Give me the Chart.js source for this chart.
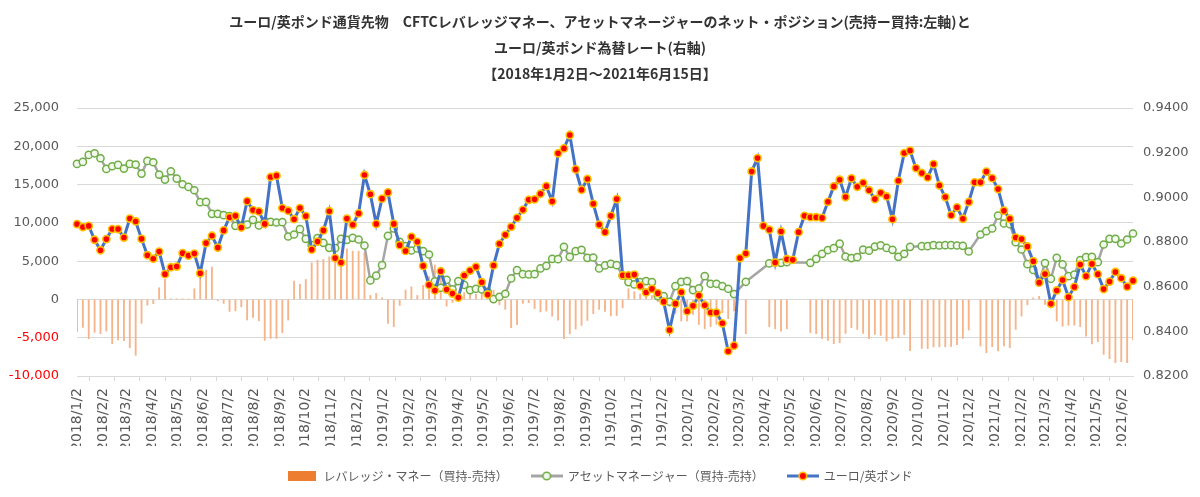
<!DOCTYPE html>
<html>
<head>
<meta charset="utf-8">
<script src="https://cdn.jsdelivr.net/npm/chart.js@4.4.1/dist/chart.umd.min.js"></script>
<style>
html,body{margin:0;padding:0;background:#ffffff;}
#wrap{width:1200px;height:497px;}
</style>
</head>
<body>
<div id="wrap"><canvas id="c" width="1200" height="497"></canvas></div>
<script>
// ---- data (weekly, every Tuesday from 2018/1/2 to 2021/6/15) ----
const startDate = '2018/1/2';

// Leveraged money (long - short), left axis
const levMoney = [
 -4217,-3652,-5130,-4304,-4478,-4130,-5783,-5304,-5391,-6305,
 -7304,-3130,-739,-565,1522,2609,100,80,40,30,
 1391,3783,3826,4217,-174,-522,-1565,-1478,-957,-2696,
 -2348,-2783,-5348,-5087,-5087,-4348,-2696,2391,1957,2609,
 4783,5130,5217,5565,6000,5600,6609,6305,6305,6100,
 522,783,217,-3130,-3565,-783,1217,1652,522,1826,
 3000,4500,3900,-870,-400,300,900,800,650,1200,
 1000,1200,-700,-1300,-3700,-3300,-520,-430,-1200,-1630,
 -1520,-2200,-2700,-5130,-4500,-3870,-3400,-2750,-1850,-1300,
 -1550,-2150,-2100,-1100,1400,1000,700,600,500,-300,
 -500,-900,-1826,-2826,-2826,-1957,-3261,-3826,-3565,-3261,
 -1739,-2522,-1500,null,-4478,null,null,null,-3565,-3826,
 -4130,-3826,null,null,null,-4348,-4478,-5130,-5348,-5783,
 -5652,-4435,-3696,-3913,-4435,-5130,-4565,-4700,-5435,-5130,
 -5000,-4600,-6700,null,-6400,-6400,-6200,-6200,-6200,-6150,
 -5900,-5100,-4000,null,-6087,-6957,-6174,-6739,-6087,-6305,
 -3913,-2174,-700,200,400,-652,-800,-2826,-3500,-3370,
 -3370,-3565,-4783,-5800,-5500,-7174,-7739,-8261,-8130,-8261,
 -5304
];

// Asset manager (long - short), left axis
const assetMgr = [
 17696,17957,18870,19087,18435,17044,17392,17566,17088,17696,
 17609,16435,18087,17914,16305,15653,16740,15783,15044,14696,
 14261,12696,12740,11174,11174,11000,10870,9609,9652,9783,
 10392,9652,10218,10131,10044,10087,8218,8479,9174,7913,
 7087,8000,7392,6739,6696,7913,7783,8044,7826,7044,
 2478,3100,4478,8305,9261,7522,6957,6391,6652,6305,
 5870,2348,1522,2565,1304,2391,1913,1217,1391,1304,
 1000,43,348,739,2739,3826,3304,3261,3304,4044,
 4391,5304,5261,6870,5565,6305,6478,5435,5478,4044,
 4435,4652,4478,3100,2261,1957,2261,2391,2261,435,
 435,-304,1739,2304,2391,1217,1435,3043,2043,2043,
 1739,1391,700,null,2304,null,null,null,4700,4850,
 4783,4870,null,null,null,4783,5304,5957,6450,6700,
 7280,5600,5400,5522,6500,6370,6900,7060,6720,6478,
 5565,5957,6870,null,6957,6957,7087,7044,7087,7087,
 7044,7000,6261,null,8478,8913,9261,10957,9913,9826,
 7478,6522,4600,3850,2300,4750,2696,5435,4565,3043,
 3250,5130,5522,5565,4870,7174,7913,7913,7304,7826,
 8609
];

// EUR/GBP rate, right axis
const eurgbp = [
 0.8880,0.8867,0.8872,0.8810,0.8763,0.8813,0.8858,0.8858,0.8820,0.8905,
 0.8892,0.8814,0.8741,0.8725,0.8757,0.8656,0.8687,0.8690,0.8750,0.8739,
 0.8748,0.8660,0.8795,0.8828,0.8775,0.8852,0.8911,0.8917,0.8865,0.8983,
 0.8943,0.8937,0.8881,0.9091,0.9097,0.8952,0.8940,0.8902,0.8952,0.8916,
 0.8766,0.8802,0.8852,0.8938,0.8728,0.8708,0.8905,0.8877,0.8928,0.9100,
 0.9014,0.8881,0.8994,0.9022,0.8881,0.8786,0.8760,0.8823,0.8801,0.8693,
 0.8608,0.8583,0.8669,0.8587,0.8569,0.8551,0.8650,0.8672,0.8689,0.8620,
 0.8565,0.8695,0.8792,0.8832,0.8868,0.8908,0.8944,0.8989,0.8991,0.9016,
 0.9050,0.8982,0.9197,0.9219,0.9279,0.9125,0.9034,0.9082,0.8971,0.8878,
 0.8844,0.8917,0.8992,0.8651,0.8651,0.8654,0.8603,0.8574,0.8590,0.8571,
 0.8533,0.8406,0.8524,0.8575,0.8490,0.8514,0.8560,0.8517,0.8484,0.8484,
 0.8436,0.8311,0.8336,0.8728,0.8748,0.9116,0.9176,0.8872,0.8855,0.8708,
 0.8847,0.8723,0.8720,0.8844,0.8917,0.8911,0.8911,0.8908,0.8980,0.9049,
 0.9079,0.9001,0.9085,0.9047,0.9065,0.9032,0.8992,0.9020,0.9004,0.8902,
 0.9074,0.9198,0.9209,0.9131,0.9109,0.9089,0.9149,0.9053,0.9001,0.8920,
 0.8955,0.8904,0.8979,0.9067,0.9067,0.9115,0.9086,0.9037,0.8940,0.8904,
 0.8820,0.8813,0.8780,0.8714,0.8618,0.8657,0.8523,0.8583,0.8630,0.8553,
 0.8599,0.8699,0.8647,0.8702,0.8656,0.8589,0.8623,0.8666,0.8638,0.8600,
 0.8627
];

// x-axis tick labels (monthly)
const monthLabels = [
 '2018/1/2','2018/2/2','2018/3/2','2018/4/2','2018/5/2','2018/6/2','2018/7/2','2018/8/2','2018/9/2','2018/10/2','2018/11/2','2018/12/2',
 '2019/1/2','2019/2/2','2019/3/2','2019/4/2','2019/5/2','2019/6/2','2019/7/2','2019/8/2','2019/9/2','2019/10/2','2019/11/2','2019/12/2',
 '2020/1/2','2020/2/2','2020/3/2','2020/4/2','2020/5/2','2020/6/2','2020/7/2','2020/8/2','2020/9/2','2020/10/2','2020/11/2','2020/12/2',
 '2021/1/2','2021/2/2','2021/3/2','2021/4/2','2021/5/2','2021/6/2'
];
const endDate = '2021/6/15';

const leftTicks = {min:-10000, max:25000, step:5000};
const rightTicks = {min:0.82, max:0.94, step:0.02};

const titleLines = [
 'ユーロ/英ポンド通貨先物　CFTCレバレッジマネー、アセットマネージャーのネット・ポジション(売持ー買持:左軸)と',
 'ユーロ/英ポンド為替レート(右軸)',
 '【2018年1月2日～2021年6月15日】'
];
const seriesNames = ['レバレッジ・マネー（買持-売持）','アセットマネージャー（買持-売持）','ユーロ/英ポンド'];

// ---- helpers ----
const DAY = 86400000;
const toUTC = s => { const p = s.split('/').map(Number); return Date.UTC(p[0], p[1]-1, p[2]); };
const t0 = toUTC(startDate);
const dayOf = s => Math.round((toUTC(s) - t0) / DAY);
const weekX = eurgbp.map((_, i) => i * 7);
const monthX = monthLabels.map(dayOf);
const maxX = dayOf(endDate);
const pts = arr => arr.map((v, i) => ({x: weekX[i], y: v}));

function mkIcon(w, h, draw){
  const c = document.createElement('canvas'); c.width = w; c.height = h;
  draw(c.getContext('2d'), w, h); return c;
}
const iconBar = mkIcon(28, 10, (g, w, h) => { g.fillStyle = '#ED7D31'; g.fillRect(0, 0, w, h); });
const iconAM = mkIcon(32, 12, (g, w, h) => {
  g.strokeStyle = '#A5A5A5'; g.lineWidth = 3; g.beginPath(); g.moveTo(0, 6); g.lineTo(w, 6); g.stroke();
  g.beginPath(); g.arc(w/2, 6, 3.8, 0, Math.PI*2); g.fillStyle = '#F2F8EE'; g.fill();
  g.strokeStyle = '#70AD47'; g.lineWidth = 1.6; g.stroke();
});
const iconFX = mkIcon(32, 12, (g, w, h) => {
  g.strokeStyle = '#4472C4'; g.lineWidth = 3; g.beginPath(); g.moveTo(0, 6); g.lineTo(w, 6); g.stroke();
  g.beginPath(); g.arc(w/2, 6, 3.8, 0, Math.PI*2); g.fillStyle = '#FF0000'; g.fill();
  g.strokeStyle = '#FFC000'; g.lineWidth = 1.6; g.stroke();
});

const tickFont = {family: "'DejaVu Sans', sans-serif", size: 13};
const xTickFont = {family: "'DejaVu Sans', sans-serif", size: 14};
const jpFont = "'Noto Sans CJK JP', sans-serif";

new Chart(document.getElementById('c'), {
  type: 'bar',
  data: {
    datasets: [
      {
        type: 'bar', label: seriesNames[0], data: pts(levMoney), yAxisID: 'y', order: 3,
        backgroundColor: '#F5B48A', borderWidth: 0, barThickness: 1.2
      },
      {
        type: 'line', label: seriesNames[1], data: pts(assetMgr), yAxisID: 'y', order: 2,
        borderColor: '#A5A5A5', borderWidth: 2.5, spanGaps: true, tension: 0,
        pointRadius: 3.6, pointBorderWidth: 1.5, pointBackgroundColor: '#F2F8EE', pointBorderColor: '#70AD47',
        clip: 10
      },
      {
        type: 'line', label: seriesNames[2], data: pts(eurgbp), yAxisID: 'y1', order: 1,
        borderColor: '#4472C4', borderWidth: 3, tension: 0,
        pointRadius: 3.6, pointBorderWidth: 1.6, pointBackgroundColor: '#FF0000', pointBorderColor: '#FFC000',
        clip: 10
      }
    ]
  },
  options: {
    responsive: false, animation: false, devicePixelRatio: 1,
    layout: {padding: {left: 0, right: 0, top: 0, bottom: 5}},
    plugins: {
      tooltip: {enabled: false},
      title: {
        display: true, text: titleLines, color: '#333333',
        font: {family: jpFont, size: 14, weight: 'bold', lineHeight: 26/14},
        padding: {top: 9, bottom: 21}
      },
      legend: {
        position: 'bottom',
        labels: {
          usePointStyle: true, pointStyleWidth: 30, padding: 24,
          font: {family: jpFont, size: 12}, color: '#595959',
          generateLabels: () => [
            {text: seriesNames[0], pointStyle: iconBar, datasetIndex: 0, fontColor: '#595959', fillStyle: '#ED7D31', strokeStyle: '#ED7D31', lineWidth: 0, hidden: false},
            {text: seriesNames[1], pointStyle: iconAM, datasetIndex: 1, fontColor: '#595959', fillStyle: '#A5A5A5', strokeStyle: '#A5A5A5', lineWidth: 0, hidden: false},
            {text: seriesNames[2], pointStyle: iconFX, datasetIndex: 2, fontColor: '#595959', fillStyle: '#4472C4', strokeStyle: '#4472C4', lineWidth: 0, hidden: false}
          ]
        }
      }
    },
    scales: {
      x: {
        type: 'linear', min: 0, max: maxX, offset: false,
        afterBuildTicks: s => { s.ticks = monthX.map(v => ({value: v})); },
        afterFit: s => { s.height = 70; },
        ticks: {
          autoSkip: false, maxRotation: 90, minRotation: 90, padding: 7,
          color: '#595959', font: xTickFont,
          callback: (v, i) => monthLabels[i]
        },
        grid: {drawOnChartArea: false, color: '#D9D9D9', tickLength: 5},
        border: {display: true, color: '#D9D9D9'}
      },
      y: {
        position: 'left', min: leftTicks.min, max: leftTicks.max,
        afterFit: s => { s.width = 77; },
        ticks: {
          stepSize: leftTicks.step, padding: 18, font: tickFont,
          color: ctx => (ctx.tick && ctx.tick.value < 0) ? '#FF0000' : '#595959',
          callback: v => Number(v).toLocaleString('en-US')
        },
        grid: {color: '#D9D9D9', drawTicks: false, lineWidth: 1},
        border: {display: false}
      },
      y1: {
        position: 'right', min: rightTicks.min, max: rightTicks.max,
        afterFit: s => { s.width = 67; },
        ticks: {
          stepSize: rightTicks.step, padding: 10, font: tickFont, color: '#595959',
          callback: v => Number(v).toFixed(4)
        },
        grid: {drawOnChartArea: false, drawTicks: false},
        border: {display: false}
      }
    }
  }
});
</script>
</body>
</html>
